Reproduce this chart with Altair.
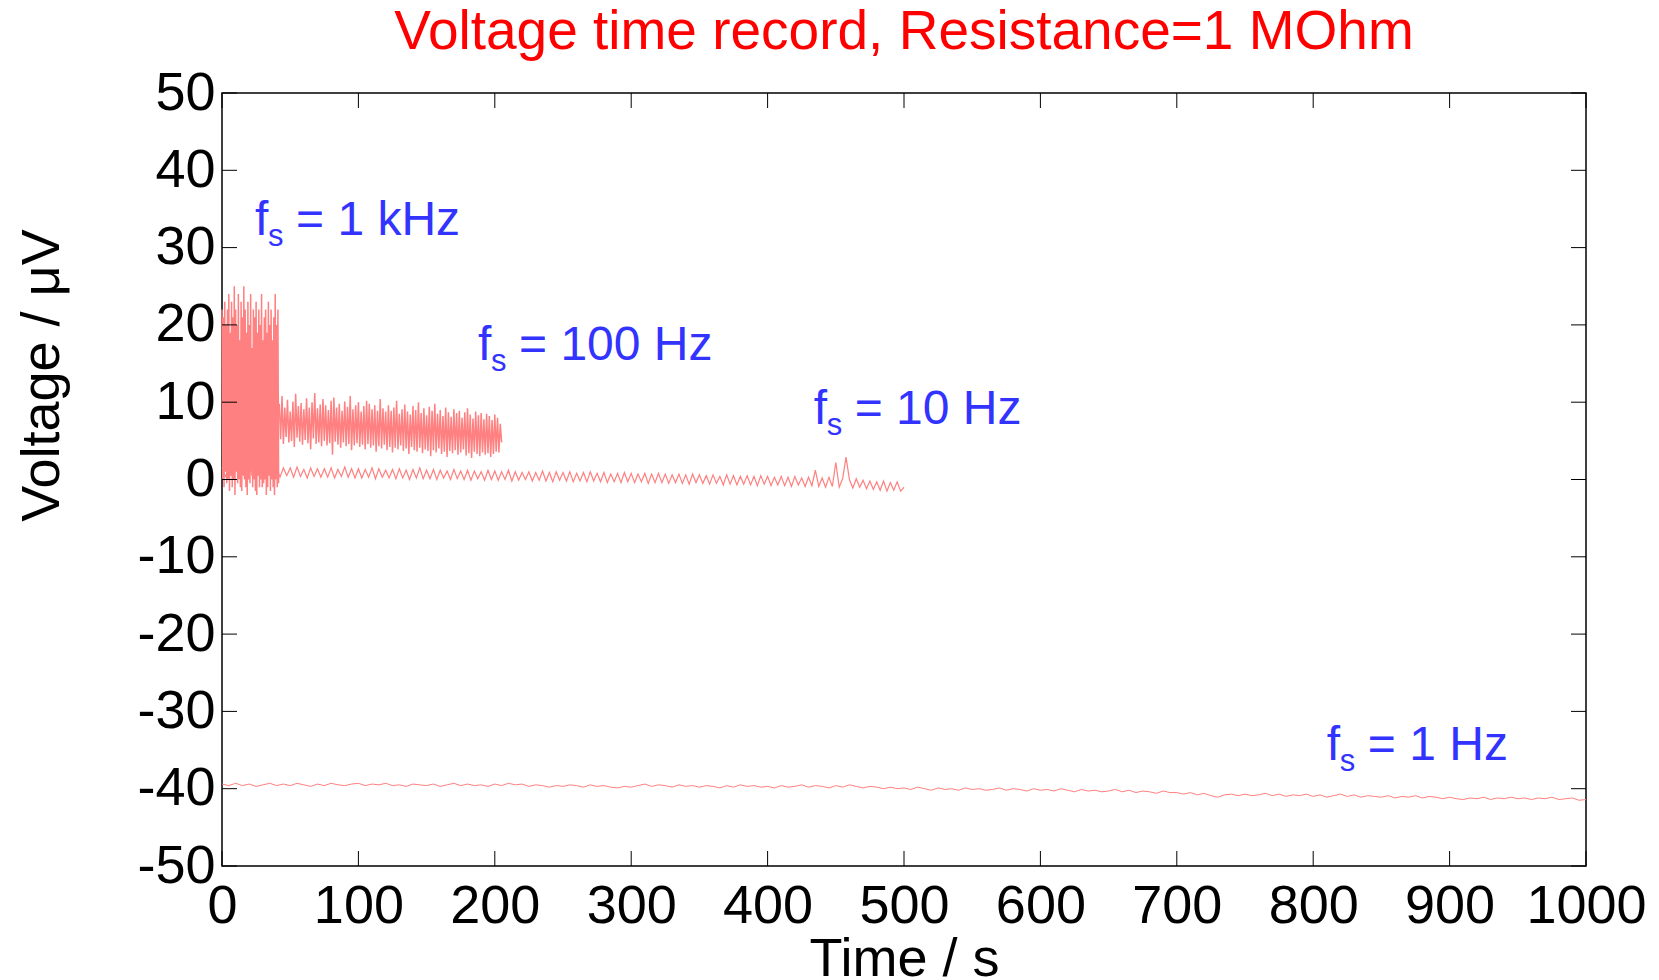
import altair as alt
import pandas as pd

# ---------------- data ----------------
# fs = 1 kHz burst (0 .. 41.5 s, alternating peak / trough samples every 0.5 s)
khz_hi = [22, 21, 23, 20, 22, 24, 19, 23, 21, 25, 22, 20, 24, 18, 23, 21, 25, 22, 19, 23, 20,
          24, 17, 22, 21, 23, 19, 22, 20, 24, 18, 21, 22, 19, 23, 20, 22, 18, 21, 24, 20, 22]
khz_lo = [0, -1, 1, -0.5, 0, -1.5, 0.5, -1, 0, -2, 1, -0.5, 0, -1, -1.5, 0.5, 0, -1, -2, 0, -0.5,
          1, -1, 0, -1.5, -2, 0.5, -1, 0, -1, -0.5, 0, -2, -1, 0.5, -1.5, 0, -1, -2, 0, -1, -0.5]
khz_t0, khz_dt = 0.0, 0.5

# fs = 100 Hz (42 .. 205 s, alternating samples every 1 s)
h100_hi = [9.8, 10.8, 9.3, 10.3, 8.8, 10.1, 11.1, 9.5, 9.9, 9.1,
           10.5, 9.3, 10.0, 11.2, 9.2, 9.7, 10.4, 9.6, 9.0, 10.2,
           10.6, 9.3, 9.8, 8.9, 10.1, 9.4, 10.8, 9.1, 9.6, 10.0,
           8.8, 9.5, 10.2, 9.8, 9.1, 9.6, 8.9, 10.4, 9.2, 8.8,
           9.6, 8.9, 9.3, 10.2, 8.5, 9.1, 9.7, 8.8, 8.4, 9.5,
           9.0, 10.0, 8.6, 9.2, 8.3, 9.4, 8.9, 9.8, 8.5, 9.0,
           8.2, 9.3, 8.7, 8.1, 9.1, 8.6, 8.9, 8.0, 8.7, 9.2,
           8.4, 7.9, 8.8, 8.3, 8.6, 7.8, 8.5, 8.2, 7.7, 8.4,
           8.0, 7.2]
h100_lo = [5.2, 4.6, 5.5, 4.8, 5.0, 4.2, 5.4, 4.9, 4.5, 5.1,
           4.7, 3.9, 5.3, 4.6, 4.8, 4.3, 5.0, 4.4, 4.7, 3.2,
           4.9, 4.5, 4.1, 4.8, 4.3, 4.6, 3.8, 4.4, 4.7, 4.2,
           4.5, 3.9, 4.6, 4.1, 4.4, 3.6, 4.3, 4.0, 4.5, 3.8,
           4.2, 3.5, 4.1, 3.9, 4.4, 3.7, 4.0, 3.3, 4.2, 3.8,
           3.6, 4.1, 3.4, 3.9, 3.7, 3.0, 3.8, 3.5, 4.0, 3.3,
           3.6, 2.9, 3.7, 3.4, 3.8, 3.2, 3.5, 3.9, 3.1, 3.4,
           2.8, 3.6, 3.3, 3.0, 3.5, 3.2, 3.4, 2.9, 3.3, 3.6,
           3.5, 4.8]
h100_t0, h100_dt = 42.0, 1.0

# fs = 10 Hz (0 .. 500 s, every 2.5 s)
h10_v = [1.6, 0.4, 1.5, 0.5, 1.7, 0.4, 1.4, 0.6, 1.6, 0.3,
         1.5, 0.5, 1.7, 0.4, 1.4, 0.6, 1.6, 0.3, 1.5, 0.5,
         1.5, 0.3, 1.6, 0.4, 1.3, 0.2, 1.5, 0.4, 1.4, 0.3,
         1.4, 0.3, 1.5, 0.2, 1.3, 0.4, 1.6, 0.3, 1.4, 0.2,
         1.4, 0.2, 1.3, 0.3, 1.5, 0.1, 1.4, 0.3, 1.2, 0.2,
         1.3, 0.1, 1.4, 0.2, 1.2, 0.0, 1.3, 0.2, 1.5, 0.1,
         1.2, 0.1, 1.3, 0.0, 1.2, 0.2, 1.1, 0.0, 1.3, 0.1,
         1.1, 0.0, 1.2, -0.1, 1.1, 0.1, 1.0, -0.1, 1.2, 0.0,
         1.1, -0.1, 1.0, 0.0, 1.2, -0.2, 1.0, -0.1, 0.9, 0.0,
         1.0, -0.2, 0.9, -0.1, 1.1, -0.2, 0.9, -0.3, 1.0, -0.1,
         0.9, -0.2, 1.0, -0.3, 0.8, -0.2, 0.9, -0.3, 1.0, -0.2,
         0.8, -0.3, 0.9, -0.4, 0.7, -0.3, 0.8, -0.4, 0.9, -0.3,
         0.8, -0.4, 0.7, -0.3, 0.8, -0.5, 0.7, -0.4, 0.8, -0.4,
         0.7, -0.5, 0.6, -0.4, 0.7, -0.5, 0.6, -0.6, 0.7, -0.4,
         0.6, -0.5, 0.5, -0.6, 0.6, -0.5, 0.4, -0.7, 0.6, -0.6,
         0.5, -0.7, 0.4, -0.6, 0.5, -0.7, 0.4, -0.8, 0.5, -0.6,
         0.4, -0.8, 0.3, -0.7, 0.4, -0.8, 0.3, -0.9, 0.4, -0.7,
         0.2, -0.9, 0.3, -0.8, 1.2, -0.9, 0.2, -1.0, 0.3, -0.9,
         2.2, -1.0, 0.1, 2.9, 0.0, -1.1, 0.1, -1.0, -0.1, -1.2,
         -0.2, -1.3, -0.3, -1.4, -0.2, -1.5, -0.4, -1.4, -0.3, -1.5,
         -1.0]
h10_t0, h10_dt = 0.0, 2.5

# fs = 1 Hz (0 .. 1000 s, every 5 s)
h1_v = [-39.4, -39.6, -39.3, -39.6, -39.4, -39.7, -39.5, -39.3, -39.6, -39.4,
        -39.6, -39.3, -39.5, -39.7, -39.4, -39.6, -39.3, -39.5, -39.6, -39.4,
        -39.3, -39.6, -39.4, -39.5, -39.3, -39.6, -39.5, -39.7, -39.4, -39.5,
        -39.6, -39.4, -39.7, -39.5, -39.3, -39.6, -39.4, -39.6, -39.5, -39.7,
        -39.4, -39.6, -39.3, -39.5, -39.4, -39.7, -39.5, -39.6, -39.8, -39.6,
        -39.7, -39.5, -39.6, -39.8, -39.5, -39.7, -39.6, -39.8, -39.9, -39.7,
        -39.8, -39.6, -39.4, -39.7, -39.5, -39.6, -39.8, -39.5, -39.7, -39.6,
        -39.8, -39.6, -39.7, -39.9, -39.6, -39.8, -39.5, -39.7, -39.6, -39.8,
        -39.7, -39.9, -39.6, -39.8, -39.7, -39.5, -39.8, -39.6, -39.7, -39.9,
        -39.6, -39.8, -39.5, -39.7, -39.9, -39.7, -39.8, -40.0, -39.8, -40.0,
        -39.9, -40.1, -39.8, -40.0, -40.2, -39.9, -40.1, -40.0, -40.2, -39.9,
        -40.1, -40.0, -40.2, -40.1, -39.9, -40.2, -40.0, -40.1, -40.3, -40.0,
        -40.2, -40.1, -40.3, -40.0, -40.2, -40.4, -40.1, -40.3, -40.2, -40.4,
        -40.3, -40.1, -40.4, -40.2, -40.5, -40.3, -40.4, -40.6, -40.3, -40.5,
        -40.5, -40.7, -40.5, -40.8, -40.6, -40.9, -41.1, -40.8, -40.7, -40.9,
        -40.7, -40.9, -40.8, -40.6, -40.9, -40.7, -41.0, -40.8, -40.9, -40.7,
        -41.0, -40.8, -41.1, -40.9, -40.7, -41.0, -40.8, -41.1, -40.9, -41.0,
        -41.1, -40.9, -41.2, -41.0, -41.1, -40.9, -41.2, -41.0, -41.1, -41.3,
        -41.1, -41.3, -41.4, -41.2, -41.3, -41.1, -41.4, -41.2, -41.3, -41.1,
        -41.3, -41.2, -41.4, -41.2, -41.3, -41.1, -41.4, -41.3, -41.2, -41.5,
        -41.4]
h1_t0, h1_dt = 0.0, 5.0

# annotations
label_t = [24.2, 187.7, 433.8, 810.0]
label_v = [31.6, 15.5, 7.2, -36.3]
label_rest = ["= 1 kHz", "= 100 Hz", "= 10 Hz", "= 1 Hz"]

x_ticks = [0, 100, 200, 300, 400, 500, 600, 700, 800, 900, 1000]
y_ticks = [-50, -40, -30, -20, -10, 0, 10, 20, 30, 40, 50]

TITLE = "Voltage time record, Resistance=1 MOhm"
X_TITLE = "Time / s"
Y_TITLE = "Voltage / μV"

# ---------------- build tables ----------------
rows = []
for i, (a, b) in enumerate(zip(khz_hi, khz_lo)):
    rows.append({"series": "1 kHz", "t": khz_t0 + (2 * i) * khz_dt, "v": a})
    rows.append({"series": "1 kHz", "t": khz_t0 + (2 * i + 1) * khz_dt, "v": b})
for i, (a, b) in enumerate(zip(h100_hi, h100_lo)):
    rows.append({"series": "100 Hz", "t": h100_t0 + (2 * i) * h100_dt, "v": a})
    rows.append({"series": "100 Hz", "t": h100_t0 + (2 * i + 1) * h100_dt, "v": b})
df_band = pd.DataFrame(rows)
df_10 = pd.DataFrame({"series": "10 Hz",
                      "t": [h10_t0 + i * h10_dt for i in range(len(h10_v))],
                      "v": h10_v})
df_1 = pd.DataFrame({"series": "1 Hz",
                     "t": [h1_t0 + i * h1_dt for i in range(len(h1_v))],
                     "v": h1_v})

labels = pd.DataFrame({"t": label_t, "v": label_v, "rest": label_rest})
xt = pd.DataFrame({"t": x_ticks})
yt = pd.DataFrame({"v": y_ticks})

W, H = 1364, 773
FONT = "Liberation Sans"
LINE = "#FF8080"
BLUE = "#3333FF"
TICK = 15

xscale = alt.Scale(domain=[0, 1000], nice=False, zero=False)
yscale = alt.Scale(domain=[-50, 50], nice=False, zero=False)

xaxis = alt.Axis(
    values=x_ticks, title=X_TITLE, ticks=False, tickSize=0, domain=False, grid=False,
    labelFont=FONT, labelFontSize=54, labelColor="black", labelPadding=56,
    labelBaseline="alphabetic", labelFlush=False, labelOverlap=False,
    labelExpr="'' + datum.value",
    titleFont=FONT, titleFontSize=54, titleFontWeight="normal", titleColor="black",
    titleBaseline="alphabetic", titleY=109)
yaxis = alt.Axis(
    values=y_ticks, title=Y_TITLE, ticks=False, tickSize=0, domain=False, grid=False,
    labelFont=FONT, labelFontSize=54, labelColor="black", labelPadding=7,
    labelBaseline="middle", labelFlush=False, labelOverlap=False,
    labelExpr="'' + datum.value",
    titleFont=FONT, titleFontSize=54, titleFontWeight="normal", titleColor="black",
    titleAngle=270, titleAlign="center", titleBaseline="alphabetic",
    titleX=-164, titleY=282)

X = lambda f="t": alt.X(f + ":Q", scale=xscale, axis=xaxis, title=X_TITLE)
Y = lambda f="v": alt.Y(f + ":Q", scale=yscale, axis=yaxis, title=Y_TITLE)

lines_band = alt.Chart(df_band).mark_line(color=LINE, strokeWidth=1.5).encode(
    x=X(), y=Y(), detail="series:N")
lines_10 = alt.Chart(df_10).mark_line(color=LINE, strokeWidth=1.2).encode(x=X(), y=Y())
lines_1 = alt.Chart(df_1).mark_line(color=LINE, strokeWidth=1).encode(x=X(), y=Y())

tick_bottom = alt.Chart(xt).mark_rule(color="black", strokeWidth=1).encode(
    x=X(), y=alt.value(H), y2=alt.value(H - TICK))
tick_top = alt.Chart(xt).mark_rule(color="black", strokeWidth=1).encode(
    x=X(), y=alt.value(0), y2=alt.value(TICK))
tick_left = alt.Chart(yt).mark_rule(color="black", strokeWidth=1).encode(
    y=Y(), x=alt.value(0), x2=alt.value(TICK))
tick_right = alt.Chart(yt).mark_rule(color="black", strokeWidth=1).encode(
    y=Y(), x=alt.value(W), x2=alt.value(W - TICK))

base_lab = alt.Chart(labels).encode(x=X(), y=Y())
lab_f = base_lab.mark_text(text="f", font=FONT, fontSize=48, color=BLUE,
                           align="left", baseline="alphabetic")
lab_s = base_lab.mark_text(text="s", font=FONT, fontSize=31, color=BLUE,
                           align="left", baseline="alphabetic", dx=13, dy=11)
lab_rest = base_lab.mark_text(font=FONT, fontSize=48, color=BLUE,
                              align="left", baseline="alphabetic", dx=41).encode(text="rest:N")

chart = alt.layer(lines_band, lines_10, lines_1, tick_bottom, tick_top, tick_left, tick_right,
                  lab_f, lab_s, lab_rest).properties(
    width=W, height=H,
    title=alt.TitleParams(text=TITLE, font=FONT, fontSize=55, fontWeight="normal",
                          color="#FF0000", anchor="middle", frame="group",
                          baseline="alphabetic", offset=15, dy=53),
    autosize=alt.AutoSizeParams(type="none"),
    padding={"left": 222, "top": 93, "right": 73, "bottom": 114},
    background="white",
).configure_view(stroke="black", strokeWidth=1.5)

chart.save("out.html", embed_options={"renderer": "svg", "actions": False})
